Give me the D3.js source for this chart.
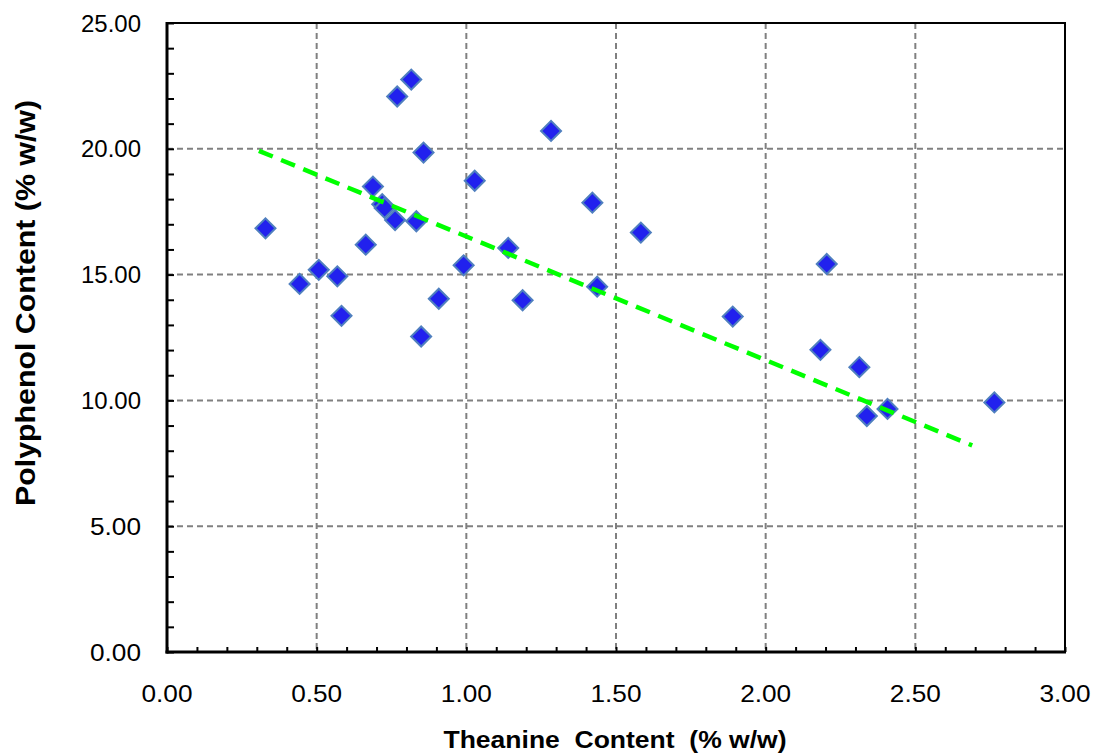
<!DOCTYPE html>
<html>
<head>
<meta charset="utf-8">
<script src="https://cdn.jsdelivr.net/npm/d3@7"></script>
<style>
  html, body { margin: 0; padding: 0; background: #fff; }
  svg { display: block; }
</style>
</head>
<body>
<svg id="chart" width="1093" height="754"></svg>
<script>
// Theanine vs polyphenol content of tea samples (% w/w)
const theanine = [0.329, 0.443, 0.507, 0.569, 0.583, 0.664, 0.688, 0.719, 0.727, 0.762,
                  0.769, 0.816, 0.833, 0.849, 0.857, 0.908, 0.991, 1.028, 1.140, 1.188,
                  1.283, 1.421, 1.437, 1.583, 1.890, 2.183, 2.204, 2.313, 2.338, 2.407, 2.764];
const polyphenol = [16.84, 14.63, 15.19, 14.93, 13.36, 16.19, 18.50, 17.80, 17.65, 17.17,
                    22.08, 22.75, 17.12, 12.54, 19.85, 14.04, 15.37, 18.73, 16.06, 13.98,
                    20.71, 17.86, 14.52, 16.67, 13.33, 12.01, 15.42, 11.32, 9.38, 9.66, 9.92];

// Linear trend line end points
const trendX = [0.307, 2.69];
const trendY = [19.92, 8.21];

const xTicks = [0, 0.5, 1.0, 1.5, 2.0, 2.5, 3.0];
const yTicks = [0, 5, 10, 15, 20, 25];
const xMinor = d3.range(0, 30.5, 1).map(d => d / 10);
const yMinor = d3.range(0, 25.5, 1);

const svg = d3.select("#chart");
const plotL = 167, plotR = 1065, plotT = 23, plotB = 652;

const x = d3.scaleLinear().domain([0, 3]).range([plotL, plotR]);
const y = d3.scaleLinear().domain([0, 25]).range([plotB, plotT]);

// gridlines
const grid = svg.append("g")
  .attr("stroke", "#808080").attr("stroke-width", 2)
  .attr("stroke-dasharray", "6,4");
grid.selectAll("line.v").data(xTicks.slice(1, -1)).join("line")
  .attr("class", "v")
  .attr("x1", d => x(d)).attr("x2", d => x(d))
  .attr("y1", plotT).attr("y2", plotB);
grid.selectAll("line.h").data(yTicks.slice(1, -1)).join("line")
  .attr("class", "h")
  .attr("x1", plotL).attr("x2", plotR)
  .attr("y1", d => y(d)).attr("y2", d => y(d));

// top and right frame
svg.append("path")
  .attr("d", `M${plotL},${plotT}H${plotR}V${plotB}`)
  .attr("fill", "none").attr("stroke", "#000").attr("stroke-width", 2);

// axes with inward minor ticks
const xAxis = d3.axisBottom(x).tickValues(xMinor).tickSize(-5).tickFormat("");
const yAxis = d3.axisLeft(y).tickValues(yMinor).tickSize(-7).tickFormat("");

const gx = svg.append("g").attr("transform", `translate(0,${plotB})`).call(xAxis);
gx.select(".domain").remove();
gx.selectAll(".tick line").attr("stroke", "#000").attr("stroke-width", 2);

const gy = svg.append("g").attr("transform", `translate(${plotL},0)`).call(yAxis);
gy.select(".domain").remove();
gy.selectAll(".tick line").attr("stroke", "#000").attr("stroke-width", 2);

svg.append("line").attr("x1", plotL - 1.5).attr("x2", plotR + 1)
  .attr("y1", plotB).attr("y2", plotB)
  .attr("stroke", "#000").attr("stroke-width", 3);
svg.append("line").attr("x1", plotL).attr("x2", plotL)
  .attr("y1", plotT - 1).attr("y2", plotB + 1.5)
  .attr("stroke", "#000").attr("stroke-width", 3);

// tick labels
const fmt = d3.format(".2f");
svg.append("g").selectAll("text").data(xTicks).join("text")
  .attr("x", d => x(d)).attr("y", 702)
  .attr("text-anchor", "middle")
  .attr("font-family", "Liberation Sans, Arial, sans-serif")
  .attr("font-size", 24).attr("fill", "#000")
  .attr("textLength", 51).attr("lengthAdjust", "spacingAndGlyphs")
  .text(fmt);
svg.append("g").selectAll("text").data(yTicks).join("text")
  .attr("x", 141).attr("y", d => y(d) + 8.5)
  .attr("text-anchor", "end")
  .attr("font-family", "Liberation Sans, Arial, sans-serif")
  .attr("font-size", 24).attr("fill", "#000")
  .attr("textLength", d => d >= 10 ? 60 : 51).attr("lengthAdjust", "spacingAndGlyphs")
  .text(fmt);

// axis titles
svg.append("text")
  .attr("x", 615).attr("y", 748)
  .attr("text-anchor", "middle")
  .attr("font-family", "Liberation Sans, Arial, sans-serif")
  .attr("font-weight", "bold").attr("font-size", 23)
  .attr("textLength", 343).attr("lengthAdjust", "spacingAndGlyphs")
  .style("white-space", "pre")
  .text("Theanine  Content  (% w/w)");
svg.append("text")
  .attr("transform", "translate(35,303) rotate(-90)")
  .attr("text-anchor", "middle")
  .attr("font-family", "Liberation Sans, Arial, sans-serif")
  .attr("font-weight", "bold").attr("font-size", 27)
  .attr("textLength", 406).attr("lengthAdjust", "spacingAndGlyphs")
  .text("Polyphenol Content (% w/w)");

// data points
const diamond = d3.symbol().type(d3.symbolSquare).size(200);
svg.append("g").selectAll("path").data(theanine).join("path")
  .attr("d", diamond)
  .attr("transform", (d, i) => `translate(${x(d)},${y(polyphenol[i])}) rotate(45)`)
  .attr("fill", "#2121ee")
  .attr("stroke", "#4f7fbf").attr("stroke-width", 2);

// trend line
svg.append("line")
  .attr("x1", x(trendX[0])).attr("y1", y(trendY[0]))
  .attr("x2", x(trendX[1])).attr("y2", y(trendY[1]))
  .attr("stroke", "#00ff00").attr("stroke-width", 4.5)
  .attr("stroke-dasharray", "15,9");
</script>
</body>
</html>
